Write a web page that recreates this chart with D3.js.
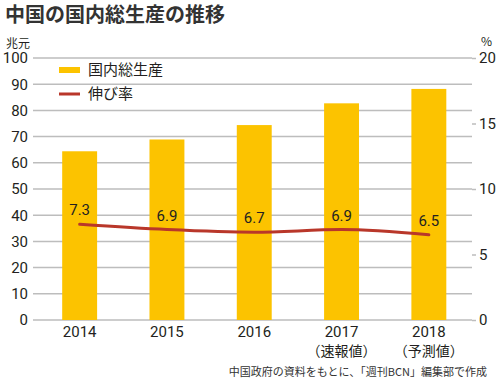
<!DOCTYPE html>
<html>
<head>
<meta charset="utf-8">
<script src="https://cdn.jsdelivr.net/npm/d3@7"></script>
<style>
  body { margin: 0; background: #fff; }
  svg text { font-family: "Noto Sans CJK JP", "Noto Sans", sans-serif; fill: #231f20; }
</style>
</head>
<body>
<svg id="chart"></svg>
<script>
// data
const years = ["2014", "2015", "2016", "2017", "2018"];
const yearNotes = ["", "", "", "（速報値）", "（予測値）"];
const gdp = [64.4, 68.9, 74.4, 82.7, 88.2];      // 兆元
const growth = [7.3, 6.9, 6.7, 6.9, 6.5];       // %
const leftTicks = [0, 10, 20, 30, 40, 50, 60, 70, 80, 90, 100];
const rightTicks = [0, 5, 10, 15, 20];

const width = 500, height = 385;
const svg = d3.select("#chart").attr("width", width).attr("height", height);

// scales
const x = d3.scaleBand().domain(years).range([36, 472.5]).paddingInner(0.6).paddingOuter(0.3);
const yL = d3.scaleLinear().domain([0, 100]).range([320, 58]);
const yR = d3.scaleLinear().domain([0, 20]).range([320, 58]);

// title
svg.append("text")
  .attr("x", 5).attr("y", 22)
  .style("font-size", "20px").style("font-weight", "700")
  .style("fill", "#333")
  .text("中国の国内総生産の推移");

// unit labels
svg.append("text").attr("x", 6).attr("y", 48).style("font-size", "12px").text("兆元");
svg.append("text").attr("x", 481).attr("y", 46).style("font-size", "12px").text("%");

// gridlines
svg.append("g").selectAll("line")
  .data(leftTicks)
  .enter().append("line")
  .attr("x1", 33).attr("x2", 472)
  .attr("y1", d => yL(d)).attr("y2", d => yL(d))
  .style("stroke", "#bdbdbd").style("stroke-width", 1.5);

// left axis labels
const leftAxis = svg.append("g")
  .attr("transform", "translate(30,0)")
  .call(d3.axisLeft(yL).tickValues(leftTicks).tickSize(0).tickPadding(2));
leftAxis.select(".domain").remove();
leftAxis.selectAll("text").style("font-size", "15px").style("font-family", "Roboto, 'Liberation Sans', sans-serif").style("fill", "#231f20");

// right axis
const rightAxis = svg.append("g")
  .attr("transform", "translate(472,0)")
  .call(d3.axisRight(yR).tickValues(rightTicks).tickSize(4).tickPadding(3));
rightAxis.select(".domain").remove();
rightAxis.selectAll("line").style("stroke", "#bdbdbd").style("stroke-width", 1.5);
rightAxis.selectAll("text").style("font-size", "15px").style("font-family", "Roboto, 'Liberation Sans', sans-serif").style("fill", "#231f20");

// bars
svg.append("g").selectAll("rect")
  .data(gdp)
  .enter().append("rect")
  .attr("x", (d, i) => x(years[i]))
  .attr("width", x.bandwidth())
  .attr("y", d => yL(d))
  .attr("height", d => yL(0) - yL(d))
  .style("fill", "#fcc300");

// growth line
const line = d3.line()
  .x((d, i) => x(years[i]) + x.bandwidth() / 2)
  .y(d => yR(d))
  .curve(d3.curveMonotoneX);

svg.append("path")
  .datum(growth)
  .attr("d", line)
  .style("fill", "none")
  .style("stroke", "#b9372a")
  .style("stroke-width", 3)
  .style("stroke-linecap", "round");

// growth labels
svg.append("g").selectAll("text")
  .data(growth)
  .enter().append("text")
  .attr("x", (d, i) => x(years[i]) + x.bandwidth() / 2)
  .attr("y", d => yR(d) - 9)
  .attr("text-anchor", "middle")
  .style("font-size", "15px")
  .style("font-family", "Roboto, 'Liberation Sans', sans-serif")
  .text(d => d.toFixed(1));

// x labels
const xl = svg.append("g").selectAll("g")
  .data(years)
  .enter().append("g");
xl.append("text")
  .attr("x", d => x(d) + x.bandwidth() / 2)
  .attr("y", 337)
  .attr("text-anchor", "middle")
  .style("font-size", "15px")
  .style("font-family", "Roboto, 'Liberation Sans', sans-serif")
  .text(d => d);
xl.append("text")
  .attr("x", d => x(d) + x.bandwidth() / 2)
  .attr("y", 356)
  .attr("text-anchor", "middle")
  .style("font-size", "14px")
  .text((d, i) => yearNotes[i]);

// legend
const legendData = ["国内総生産", "伸び率"];
const legend = svg.append("g").attr("transform", "translate(59,70)");
const items = legend.selectAll("g")
  .data(legendData)
  .enter().append("g")
  .attr("transform", (d, i) => `translate(0, ${i * 24})`);
items.append("rect")
  .attr("x", 0).attr("y", (d, i) => i === 0 ? -3 : -1.5)
  .attr("width", 21).attr("height", (d, i) => i === 0 ? 6 : 3)
  .style("fill", (d, i) => i === 0 ? "#fcc300" : "#b9372a");
items.append("text")
  .attr("x", 29).attr("y", 0)
  .attr("dy", "0.36em")
  .style("font-size", "15px")
  .text(d => d);

// source
svg.append("text")
  .attr("x", 487).attr("y", 376)
  .attr("text-anchor", "end")
  .style("font-size", "11px")
  .style("fill", "#333")
  .text("中国政府の資料をもとに、「週刊BCN」編集部で作成");
</script>
</body>
</html>
